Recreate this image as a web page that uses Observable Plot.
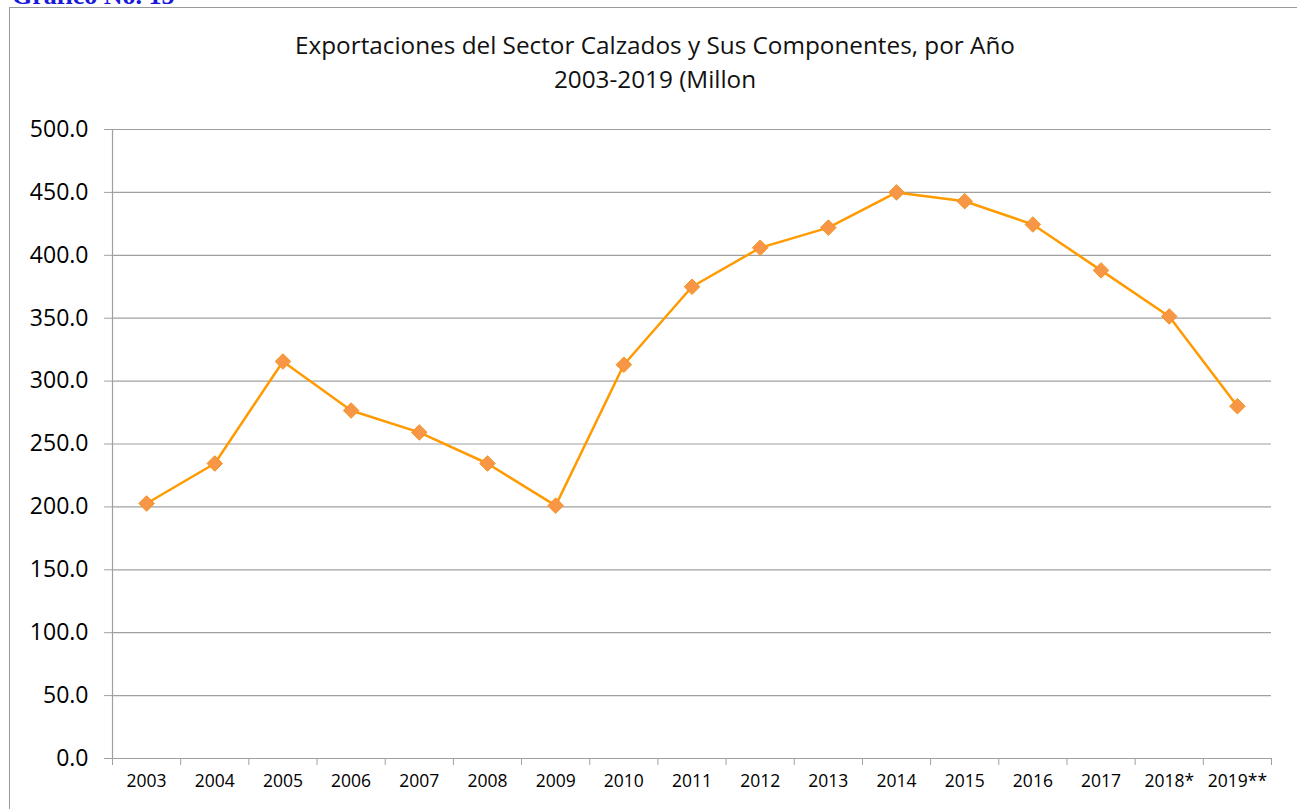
<!DOCTYPE html>
<html><head><meta charset="utf-8">
<script src="https://cdn.jsdelivr.net/npm/d3@7"></script>
<script src="https://cdn.jsdelivr.net/npm/@observablehq/plot@0.6"></script>
<style>
body{margin:0;background:#fff;overflow:hidden;}
#wrap{position:relative;width:1297px;height:809px;overflow:hidden;}
#frame{position:absolute;left:9px;top:7px;width:1400px;height:900px;border-left:1.5px solid #9a9a9a;border-top:1.5px solid #9a9a9a;}
#lbl{position:absolute;left:12px;top:-17px;font:bold 26px "Liberation Serif",serif;color:#1a1adc;line-height:26px;}
#title{position:absolute;left:0;width:1310px;top:28px;text-align:center;font:24.3px "Open Sans",sans-serif;color:#111;line-height:34px;}
#chart{position:absolute;left:0;top:0;}
</style></head><body>
<div id="wrap">
<div id="frame"></div>
<div id="lbl">Gráfico No. 15</div>
<div id="chart"></div>
<div id="title">Exportaciones del Sector Calzados y Sus Componentes, por Año<br>2003-2019 (Millon</div>
</div>
<script>
const years = ["2003","2004","2005","2006","2007","2008","2009","2010","2011","2012","2013","2014","2015","2016","2017","2018*","2019**"];
const values = [202.7,234.5,315.6,276.6,259.2,234.5,201.0,313.0,375.0,406.0,422.0,450.0,443.0,424.5,388.0,351.4,280.0];
const yTicks = [0,50,100,150,200,250,300,350,400,450,500];

const data = years.map((y,i)=>({i:i+0.5, year:y, v:values[i]}));
const gray = "#a0a0a0";
const chart = Plot.plot({
  width:1297, height:809,
  marginLeft:112, marginRight:26, marginTop:129, marginBottom:51,
  style:{fontFamily:"'Open Sans',sans-serif", background:"transparent"},
  x:{type:"linear", domain:[0, years.length], axis:null},
  y:{domain:[0,500], axis:null},
  marks:[
    Plot.gridY(yTicks,{stroke:gray, strokeOpacity:1, strokeWidth:1.2}),
    Plot.ruleX([0],{stroke:gray, strokeWidth:1.2}),
    Plot.axisY({ticks:yTicks, tickSize:8, tickPadding:16, tickFormat:d3.format(".1f"), fontSize:23, stroke:gray, fill:"#000", label:null}),
    Plot.axisX({ticks:d3.range(0, years.length+1), tickSize:7, tickFormat:()=>"", stroke:gray, label:null}),
    Plot.axisX({ticks:data.map(d=>d.i), tickSize:0, tickPadding:16, tickFormat:(t)=>years[Math.floor(t)], fontSize:17.5, fill:"#000", label:null}),
    Plot.lineY(data,{x:"i", y:"v", stroke:"#ff9a00", strokeWidth:2.5}),
    Plot.dot(data,{x:"i", y:"v", symbol:"diamond2", r:7, fill:"#f79646", stroke:"#f6931e", strokeWidth:1})
  ]
});
document.getElementById("chart").append(chart);
</script>
</body></html>
